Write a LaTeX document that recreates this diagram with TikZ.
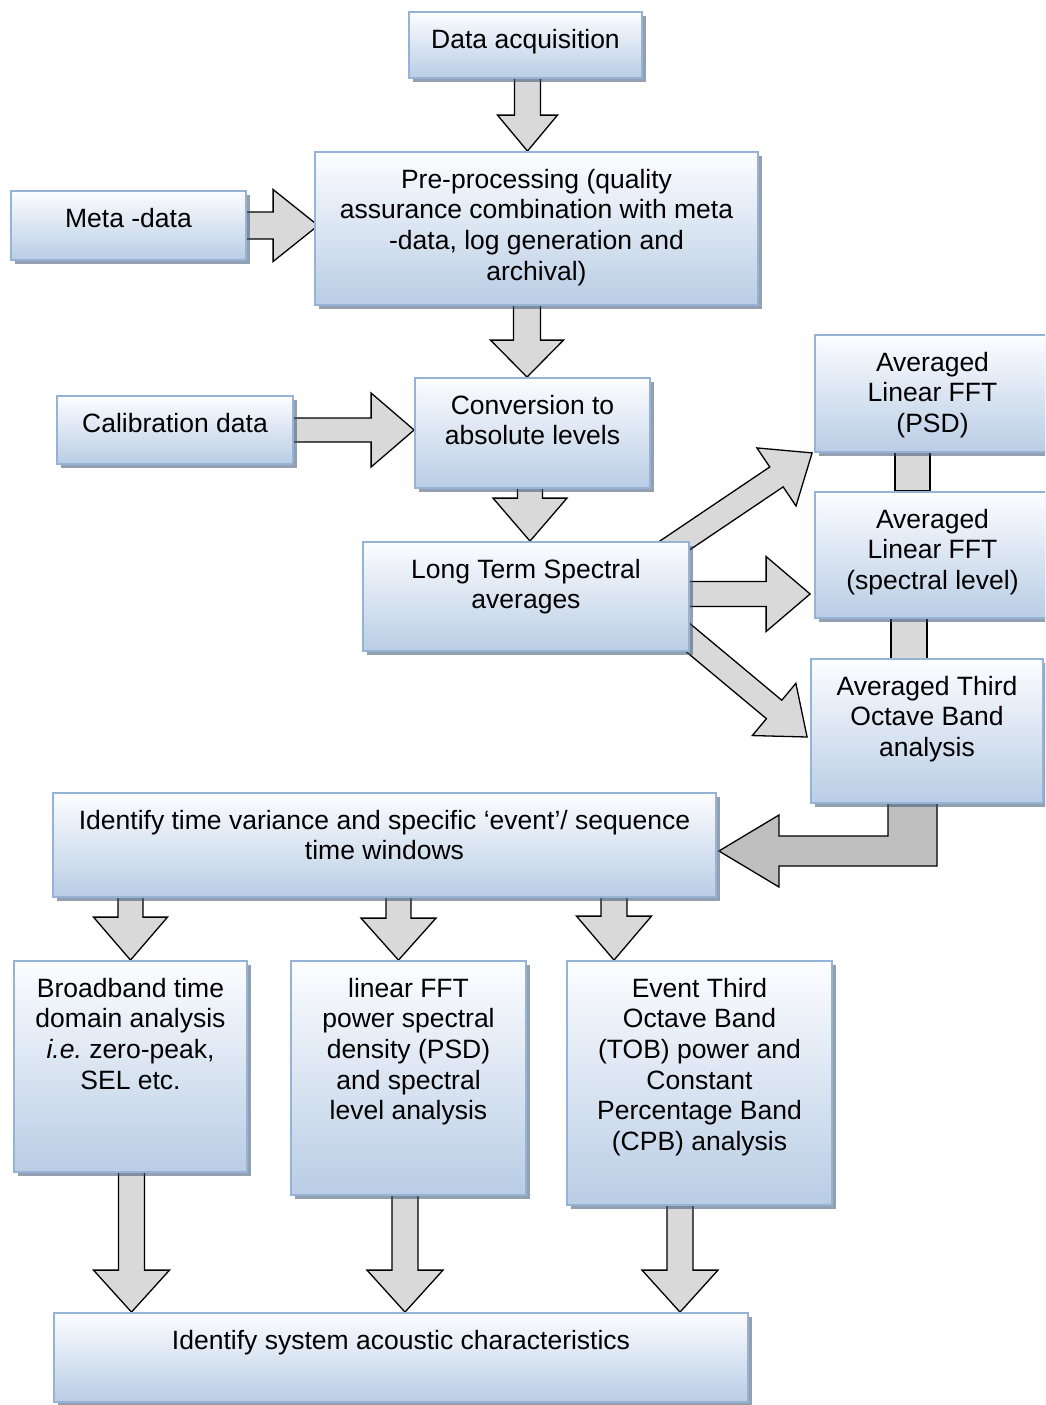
\documentclass[tikz,border=0pt]{standalone}
\usepackage{fontspec}
\setmainfont{Liberation Sans}
\usetikzlibrary{calc,shadows}
\pgfdeclarelayer{bg}
\pgfsetlayers{bg,main}
\frenchspacing
\definecolor{boxtop}{RGB}{252,253,255}
\definecolor{boxbot}{RGB}{185,205,229}
\definecolor{boxline}{RGB}{149,179,215}
\definecolor{shadowc}{RGB}{60,80,110}
\definecolor{arrgray}{RGB}{217,217,217}
\definecolor{arrdark}{RGB}{191,191,191}
\tikzset{
  box/.style={rectangle, draw=boxline, line width=1.8pt, top color=boxtop, bottom color=boxbot, inner sep=0pt,
    drop shadow={shadow xshift=4pt, shadow yshift=-4pt, fill=shadowc, opacity=0.55}},
  txt/.style={inner sep=0pt, align=center, font=\fontsize{26.5}{30.7}\selectfont},
  blockarr/.style={draw=black, line width=1.3pt, fill=arrgray, line join=miter},
}
% box: name, x1, y1, x2, y2, text
\newcommand\bx[6]{%
  \node[box, minimum width={#4pt-#2pt}, minimum height={#5pt-#3pt}] (#1) at ({(#2+#4)/2},{(#3+#5)/2}) {};
  \node[txt, anchor=north] (#1-t) at ([yshift=-15.3pt]#1.north) {\strut #6};
}
% block arrow: [opts] tail, tip, shaft half width, head half width, head length
\newcommand\barrow[6][]{%
  \path (#2) coordinate (bat) (#3) coordinate (bap);
  \path ($(bap)!#6!(bat)$) coordinate (bab);
  \draw[blockarr,#1] ($(bat)!#4!90:(bap)$) -- ($(bab)!#4!90:(bap)$) -- ($(bab)!#5!90:(bap)$) -- (bap)
    -- ($(bab)!#5!-90:(bap)$) -- ($(bab)!#4!-90:(bap)$) -- ($(bat)!#4!-90:(bap)$) -- cycle;
}
\begin{document}
\begin{tikzpicture}[x=1pt,y=-1pt]
\useasboundingbox (0,0) rectangle (1045,1405);
\clip (0,0) rectangle (1045,1405);

\bx{da}{409}{12}{642}{78}{Data acquisition}
\bx{pre}{315}{152}{758}{305}{Pre-processing (quality\\assurance combination with meta\\-data, log generation and\\archival)}
\bx{meta}{11}{191}{246}{260}{Meta -data}
\bx{cal}{57}{396}{293}{464}{Calibration data}
\bx{conv}{415}{378}{650}{488}{Conversion to\\absolute levels}
\bx{lt}{363}{542}{689}{651}{Long Term Spectral\\averages}
\bx{psd}{815}{335}{1050}{452}{Averaged\\Linear FFT\\(PSD)}
\bx{spec}{815}{492}{1050}{618}{Averaged\\Linear FFT\\(spectral level)}
\bx{third}{811}{659}{1043}{803}{Averaged Third\\Octave Band\\analysis}
\bx{idt}{53}{793}{716}{897}{Identify time variance and specific ‘event’/ sequence\\time windows}
\bx{bb}{14}{961}{247}{1172}{Broadband time\\domain analysis\\\textit{i.e.} zero-peak,\\SEL etc.}
\bx{lf}{291}{961}{526}{1195}{linear FFT\\power spectral\\density (PSD)\\and spectral\\level analysis}
\bx{ev}{567}{961}{832}{1205}{Event Third\\Octave Band\\(TOB) power and\\Constant\\Percentage Band\\(CPB) analysis}
\bx{ids}{54}{1313}{748}{1402}{Identify system acoustic characteristics}

\begin{pgfonlayer}{bg}
  % top chain
  \barrow{$(527.5,0 |- da.south)+(0,-8)$}{527.5,0 |- pre.north}{13pt}{30pt}{36pt}
  \barrow{$(meta.east)+(-8,0)$}{$(pre.west |- meta.east)+(4,0)$}{13.5pt}{36pt}{45pt}
  \barrow{$(527,0 |- pre.south)+(0,-8)$}{527,0 |- conv.north}{13.5pt}{36.5pt}{37pt}
  \barrow{$(cal.east)+(-8,0)$}{conv.west |- cal.east}{12pt}{37pt}{43pt}
  \barrow{$(530,0 |- conv.south)+(0,-8)$}{530,0 |- lt.north}{12.5pt}{37pt}{43pt}
  % fan out to the right column
  \barrow{$(lt.north east)+(-25,11)$}{$(psd.south west)+(-2,0)$}{12pt}{35pt}{43pt}
  \barrow{$(lt.east |- 0,594)+(-8,0)$}{$(spec.west |- 0,594)+(-4,0)$}{12.5pt}{37.5pt}{44pt}
  \barrow{$(lt.east)+(-20,26)$}{$(third.west)+(-3,6)$}{12pt}{34pt}{43pt}
  % links in the right column
  \draw[blockarr] (895,0 |- psd.south) ++(0,-10) rectangle (930,0 |- spec.north) ++(0,10);
  \draw[blockarr] ($(891,0 |- spec.south)+(0,-10)$) rectangle ($(927,0 |- third.north)+(0,10)$);
  % L-shaped arrow back to the time-variance box
  \coordinate (ltip) at ($(idt.east)+(2,6)$);
  \draw[blockarr, fill=arrdark]
    ($(888,0 |- third.south)+(0,-8)$) -- (888,836) -- (779,836) -- (779,815) -- (ltip)
    -- (779,887) -- (779,866) -- (937,866) -- ($(937,0 |- third.south)+(0,-8)$) -- cycle;
  % down to the three analyses
  \barrow{$(130.5,0 |- idt.south)+(0,-8)$}{130.5,0 |- bb.north}{12.5pt}{37pt}{43pt}
  \barrow{$(398.5,0 |- idt.south)+(0,-8)$}{398.5,0 |- lf.north}{12.5pt}{37.5pt}{42pt}
  \barrow{$(614,0 |- idt.south)+(0,-8)$}{614,0 |- ev.north}{13pt}{37.5pt}{44pt}
  % down to the final box
  \barrow{$(131.5,0 |- bb.south)+(0,-8)$}{131.5,0 |- ids.north}{13pt}{38pt}{42pt}
  \barrow{$(405,0 |- lf.south)+(0,-8)$}{405,0 |- ids.north}{13pt}{38pt}{42pt}
  \barrow{$(680,0 |- ev.south)+(0,-8)$}{680,0 |- ids.north}{13pt}{38pt}{42pt}
\end{pgfonlayer}
\end{tikzpicture}
\end{document}
